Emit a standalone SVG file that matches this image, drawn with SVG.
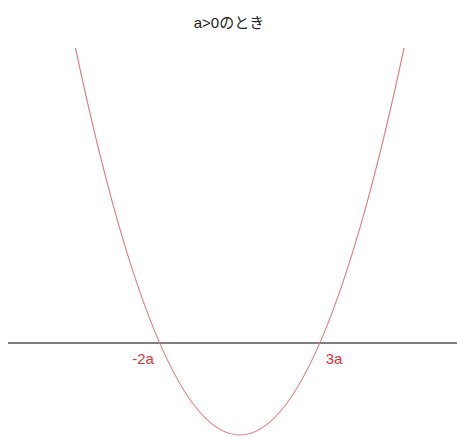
<svg xmlns="http://www.w3.org/2000/svg" width="457" height="437" viewBox="0 0 457 437">
<style>
.title{font-family:"Liberation Sans","Noto Sans CJK JP",sans-serif;font-size:15px;fill:#222;}
.lbl{font-family:"Liberation Sans",Arial,sans-serif;font-size:15px;fill:#e0303a;}
.axis{stroke:#555;stroke-width:1.7;fill:none;}
.curve{stroke:#e07a7a;stroke-width:1.2;fill:none;}
</style>
<rect width="457" height="437" fill="#fff"/>
<text class="title" x="229" y="28" text-anchor="middle">a&gt;0のとき</text>
<g id="connectors">
<line class="axis" x1="8" y1="343" x2="457" y2="343"/>
<path id="parabola" class="curve" d="M75.5,48 Q239.75,822 404,48"/>
</g>
<g id="label-minus2a"><text class="lbl" x="143" y="364" text-anchor="middle">-2a</text></g>
<g id="label-3a"><text class="lbl" x="334" y="364" text-anchor="middle">3a</text></g>
</svg>
